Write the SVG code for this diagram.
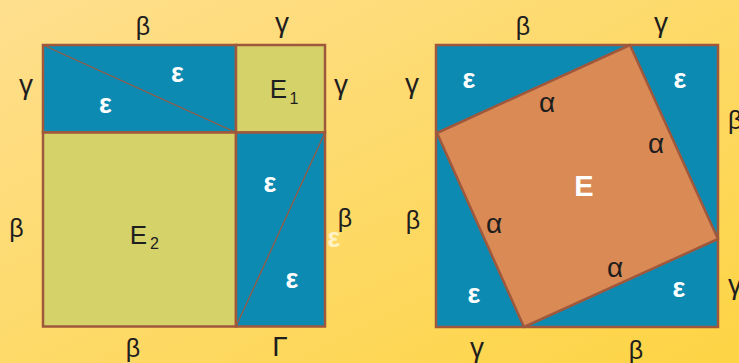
<svg xmlns="http://www.w3.org/2000/svg" width="739" height="363" viewBox="0 0 739 363">
<defs>
<linearGradient id="bg" x1="0" y1="0" x2="1" y2="1">
<stop offset="0" stop-color="#fedf8e"/>
<stop offset="1" stop-color="#fdd444"/>
</linearGradient>
</defs>
<style>
.blue{fill:#0c8ab2;stroke:#a0583c;stroke-width:2.5}
.olive{fill:#d4d268;stroke:#a0583c;stroke-width:2.5}
.orange{fill:#d98a55;stroke:#a0583c;stroke-width:2.5;stroke-linejoin:round}
.diag{stroke:#a0583c;stroke-width:1.2;fill:none}
text{font-family:"Liberation Sans",Arial,sans-serif;text-anchor:middle;fill:#1e1e1e}
.b{font-size:25px}
.g{font-size:28px}
.a{font-size:28px}
.e{font-size:27px;font-weight:bold;fill:#ffffff}
.cap{font-size:26px}
.sub{font-size:16px}
</style>
<rect width="739" height="363" fill="url(#bg)"/>

<g id="left-square">
<rect class="blue" x="43" y="45" width="193" height="87.5"/>
<rect class="olive" x="236" y="45" width="89" height="87.5"/>
<rect class="olive" x="43" y="132.5" width="193" height="194"/>
<rect class="blue" x="236" y="132.5" width="89" height="194"/>
</g>
<g id="connectors">
<line class="diag" x1="43" y1="45" x2="236" y2="132.5"/>
<line class="diag" x1="325" y1="132.5" x2="236" y2="326.5"/>
</g>

<g id="right-square">
<rect class="blue" x="436" y="45" width="282" height="282"/>
<polygon class="orange" points="630,45 718,239 524,327 437,133"/>
</g>

<g id="left-labels">
<text class="b" x="143" y="35">β</text>
<text class="g" x="282" y="32">γ</text>
<text class="g" x="26" y="94">γ</text>
<text class="g" x="341" y="94">γ</text>
<text class="b" x="16.5" y="237">β</text>
<text class="b" x="345" y="227">β</text>
<text class="e" x="334" y="247" style="fill:#fff3c6">ε</text>
<text class="b" x="133" y="357">β</text>
<text class="cap" x="280" y="356" style="font-size:28px">Γ</text>
<text class="e" x="177.5" y="82">ε</text>
<text class="e" x="105.5" y="113">ε</text>
<text class="e" x="270" y="192">ε</text>
<text class="e" x="292" y="288">ε</text>
<text class="cap" x="278.5" y="98">E</text>
<text class="sub" x="294" y="104">1</text>
<text class="cap" x="138.5" y="244">E</text>
<text class="sub" x="154.5" y="249">2</text>
</g>

<g id="right-labels">
<text class="b" x="523" y="35">β</text>
<text class="g" x="661" y="32">γ</text>
<text class="g" x="412" y="93">γ</text>
<text class="b" x="728" y="129" style="text-anchor:start">β</text>
<text class="b" x="413" y="229">β</text>
<text class="g" x="728" y="294" style="text-anchor:start">γ</text>
<text class="g" x="477" y="357">γ</text>
<text class="b" x="636" y="359">β</text>
<text class="e" x="469" y="88">ε</text>
<text class="e" x="680" y="88">ε</text>
<text class="e" x="474" y="303">ε</text>
<text class="e" x="679" y="297">ε</text>
<text class="a" x="547" y="112">α</text>
<text class="a" x="656" y="153">α</text>
<text class="a" x="494" y="233">α</text>
<text class="a" x="615" y="277">α</text>
<text class="cap" x="584" y="196" style="font-size:29px;font-weight:bold;fill:#ffffff">E</text>
</g>
</svg>
